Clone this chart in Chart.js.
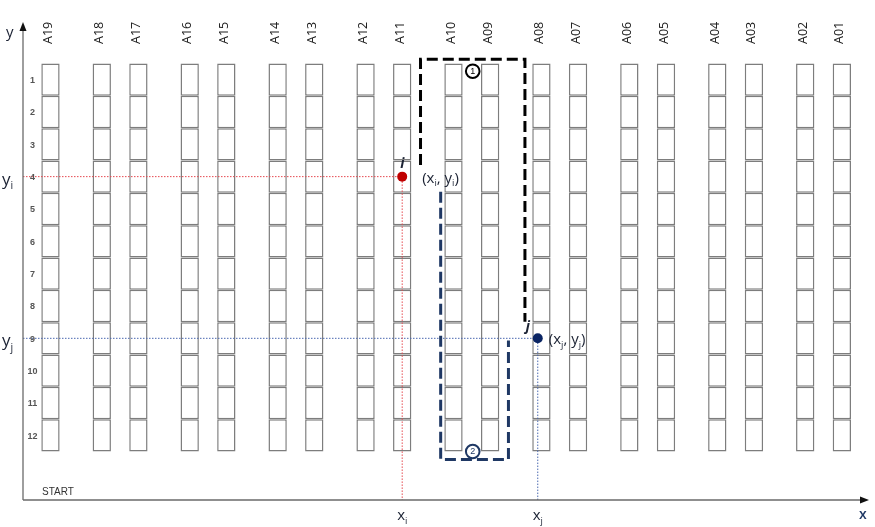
<!DOCTYPE html>
<html>
<head>
<meta charset="utf-8">
<script src="https://cdn.jsdelivr.net/npm/chart.js@4.4.1/dist/chart.umd.min.js"></script>
<style>
  body { margin: 0; background: #fff; }
  #chart { display: block; }
</style>
</head>
<body>
<canvas id="chart" width="875" height="527"></canvas>
<script>
// racks from left to right and where they stand along the x axis (1 unit = one rack width)
const rackNames = ['A19', 'A18', 'A17', 'A16', 'A15', 'A14', 'A13', 'A12', 'A11', 'A10',
                   'A09', 'A08', 'A07', 'A06', 'A05', 'A04', 'A03', 'A02', 'A01'];
const rackX = [1.5, 4.3, 6.3, 9.1, 11.1, 13.9, 15.9, 18.7, 20.7, 23.5,
               25.5, 28.3, 30.3, 33.1, 35.1, 37.9, 39.9, 42.7, 44.7];
const rows = [1, 2, 3, 4, 5, 6, 7, 8, 9, 10, 11, 12];

// the two picking locations i and j
const pointI = { x: 20.7, y: 4 };
const pointJ = { x: 28.1, y: 9 };

// route 1 (over the top) and route 2 (round the bottom)
const route1X = [21.7, 21.7, 27.4, 27.4];
const route1Y = [3.64, 0.37, 0.37, 8.49];
const route2X = [22.8, 22.8, 26.5, 26.5];
const route2Y = [4.47, 12.75, 12.75, 9.07];
const routeTags = ['1', '2'];
const routeTagX = [24.55, 24.55];
const routeTagY = [0.74, 12.5];

const X_MIN = 0, X_MAX = 45.8;
const Y_MIN = -0.72, Y_MAX = 14;

// one floating bar per rack cell
const cells = [];
for (let i = 0; i < rackX.length; i++) {
  for (let r = 0; r < rows.length; r++) {
    cells.push({ x: rackX[i], y: [rows[r] - 0.5, rows[r] + 0.5] });
  }
}

function zip(xs, ys) {
  return xs.map((x, i) => ({ x: x, y: ys[i] }));
}

// text with subscripts: parts = [[text, isSub], ...]
function drawParts(ctx, parts, x, y, size, family, color, style) {
  ctx.fillStyle = color;
  ctx.textBaseline = 'alphabetic';
  ctx.textAlign = 'left';
  let cx = x;
  for (const p of parts) {
    const s = p[1] ? size * 0.62 : size;
    ctx.font = (style ? style + ' ' : '') + s + 'px ' + family;
    ctx.fillText(p[0], cx, p[1] ? y + size * 0.25 : y);
    cx += ctx.measureText(p[0]).width;
  }
}

const drawExtras = {
  id: 'drawExtras',
  afterDraw(chart) {
    const ctx = chart.ctx;
    const xs = chart.scales.x;
    const ys = chart.scales.y;
    const ox = xs.getPixelForValue(X_MIN);
    const oy = ys.getPixelForValue(Y_MAX);
    const topY = ys.getPixelForValue(Y_MIN);
    const rightX = xs.getPixelForValue(X_MAX) + 5;

    ctx.save();
    // axes with arrow heads
    ctx.strokeStyle = '#6b6b6b';
    ctx.lineWidth = 1.3;
    ctx.beginPath();
    ctx.moveTo(ox, oy);
    ctx.lineTo(ox, topY + 4);
    ctx.moveTo(ox, oy);
    ctx.lineTo(rightX - 4, oy);
    ctx.stroke();
    ctx.fillStyle = '#111';
    ctx.beginPath();
    ctx.moveTo(ox, topY - 2);
    ctx.lineTo(ox - 3.5, topY + 7);
    ctx.lineTo(ox + 3.5, topY + 7);
    ctx.closePath();
    ctx.fill();
    ctx.beginPath();
    ctx.moveTo(rightX + 2, oy);
    ctx.lineTo(rightX - 7, oy - 3.5);
    ctx.lineTo(rightX - 7, oy + 3.5);
    ctx.closePath();
    ctx.fill();

    // rack names, rotated
    ctx.fillStyle = '#1a1a1a';
    ctx.font = '12.5px "Open Sans"';
    ctx.textAlign = 'left';
    ctx.textBaseline = 'middle';
    for (let i = 0; i < rackNames.length; i++) {
      ctx.save();
      ctx.translate(xs.getPixelForValue(rackX[i]) - 2, 44);
      ctx.rotate(-Math.PI / 2);
      ctx.fillText(rackNames[i], 0, 0);
      ctx.restore();
    }

    // row numbers just inside the y axis
    ctx.fillStyle = '#555';
    ctx.font = 'bold 9px "Liberation Sans"';
    ctx.textAlign = 'center';
    for (const r of rows) {
      ctx.fillText(String(r), ox + 9.5, ys.getPixelForValue(r) + 1);
    }

    ctx.textAlign = 'left';
    ctx.textBaseline = 'alphabetic';
    ctx.fillStyle = '#333';
    ctx.font = '10px "Liberation Sans"';
    ctx.fillText('START', 42, oy - 5);

    const fam = '"Open Sans"';
    const dark = '#1b2233';
    drawParts(ctx, [['y', false]], 6, 37, 15, fam, dark);
    drawParts(ctx, [['x', false]], 859, 519, 14, fam, '#1f3864', '600');

    const iy = ys.getPixelForValue(pointI.y);
    const jy = ys.getPixelForValue(pointJ.y);
    const ix = xs.getPixelForValue(pointI.x);
    const jx = xs.getPixelForValue(pointJ.x);
    drawParts(ctx, [['y', false], ['i', true]], 2, iy + 8, 17, fam, dark);
    drawParts(ctx, [['y', false], ['j', true]], 2, jy + 8, 17, fam, dark);
    drawParts(ctx, [['x', false], ['i', true]], ix - 5, oy + 20, 15, fam, dark);
    drawParts(ctx, [['x', false], ['j', true]], jx - 5, oy + 20, 15, fam, dark);
    drawParts(ctx, [['(x', false], ['i', true], [', y', false], ['i', true], [')', false]],
      ix + 20, iy + 6, 15, fam, dark);
    drawParts(ctx, [['(x', false], ['j', true], [', y', false], ['j', true], [')', false]],
      jx + 11, jy + 6, 15, fam, dark);
    drawParts(ctx, [['i', false]], ix - 2, iy - 9, 14, fam, dark, 'italic bold');
    drawParts(ctx, [['j', false]], jx - 12, jy - 7, 14, fam, dark, 'italic bold');

    // numbers inside the route markers
    const tagMeta = chart.getDatasetMeta(chart.data.datasets.findIndex(d => d.label === 'tags'));
    ctx.font = '9px "Liberation Sans"';
    ctx.textAlign = 'center';
    ctx.textBaseline = 'middle';
    tagMeta.data.forEach((pt, k) => {
      ctx.fillStyle = k === 0 ? '#000' : '#1f3864';
      ctx.fillText(routeTags[k], pt.x, pt.y + 0.5);
    });
    ctx.restore();
  }
};

new Chart(document.getElementById('chart'), {
  data: {
    datasets: [
      {
        type: 'scatter',
        label: 'tags',
        data: zip(routeTagX, routeTagY),
        pointRadius: 6.8,
        pointBorderWidth: 2,
        pointBackgroundColor: '#fff',
        pointBorderColor: ['#000', '#1f3864'],
        order: 0
      },
      {
        type: 'scatter',
        label: 'points',
        data: [pointI, pointJ],
        pointRadius: 5,
        pointBorderWidth: 0,
        pointBackgroundColor: ['#c00000', '#0a2463'],
        order: 1
      },
      {
        type: 'line',
        label: 'route1',
        data: zip(route1X, route1Y),
        borderColor: '#000',
        borderWidth: 3,
        borderDash: [11, 5],
        pointRadius: 0,
        fill: false,
        order: 2
      },
      {
        type: 'line',
        label: 'route2',
        data: zip(route2X, route2Y),
        borderColor: '#1f3864',
        borderWidth: 3,
        borderDash: [11, 5],
        pointRadius: 0,
        fill: false,
        order: 3
      },
      {
        type: 'line',
        label: 'guideI',
        data: [{ x: X_MIN, y: pointI.y }, pointI, { x: pointI.x, y: Y_MAX }],
        borderColor: '#e5494f',
        borderWidth: 1,
        borderDash: [1.5, 1.5],
        pointRadius: 0,
        fill: false,
        order: 4
      },
      {
        type: 'line',
        label: 'guideJ',
        data: [{ x: X_MIN, y: pointJ.y }, pointJ, { x: pointJ.x, y: Y_MAX }],
        borderColor: '#4a68b0',
        borderWidth: 1,
        borderDash: [1.5, 1.5],
        pointRadius: 0,
        fill: false,
        order: 5
      },
      {
        type: 'bar',
        label: 'cells',
        data: cells,
        backgroundColor: '#fff',
        borderColor: '#7d7d7d',
        borderWidth: 1.5,
        borderSkipped: false,
        categoryPercentage: 1,
        barPercentage: 0.5,
        order: 10
      }
    ]
  },
  options: {
    responsive: false,
    animation: false,
    devicePixelRatio: 1,
    layout: { padding: { left: 23, right: 13, top: 24, bottom: 27 } },
    plugins: {
      legend: { display: false },
      tooltip: { enabled: false }
    },
    scales: {
      x: { type: 'linear', min: X_MIN, max: X_MAX, offset: false, display: false },
      y: { type: 'linear', min: Y_MIN, max: Y_MAX, reverse: true, display: false }
    }
  },
  plugins: [drawExtras]
});
</script>
</body>
</html>
